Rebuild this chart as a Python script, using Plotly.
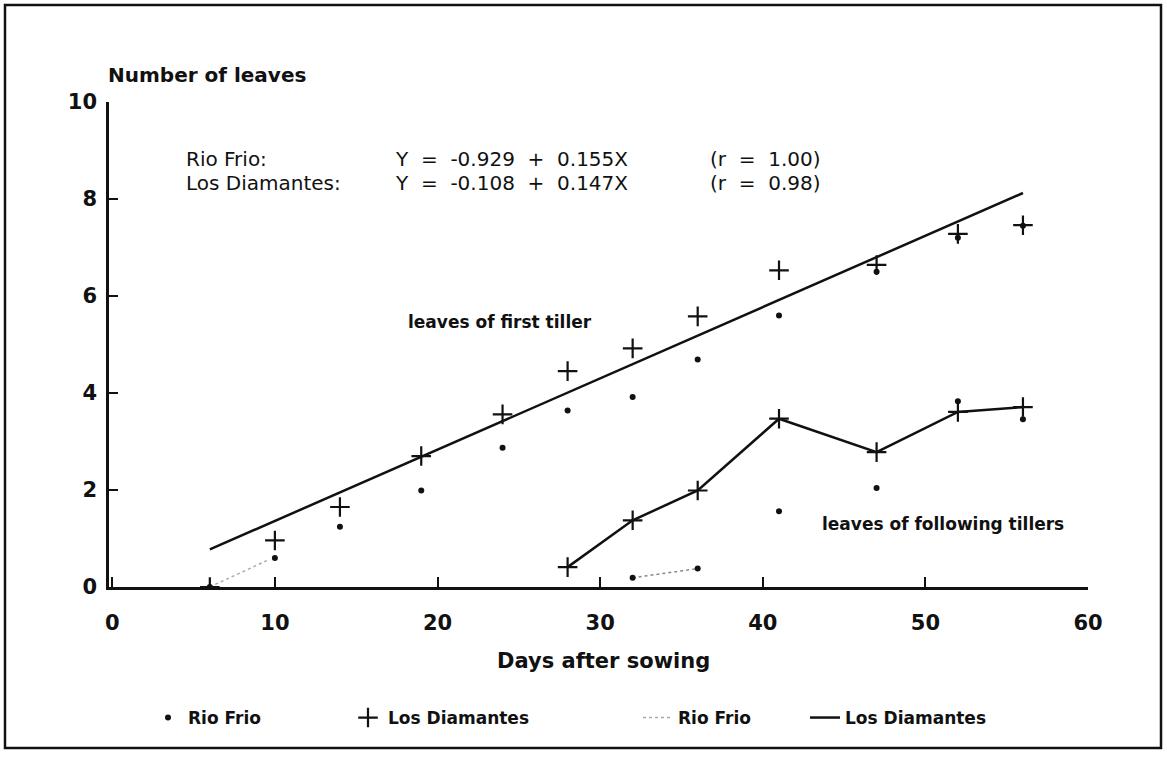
import plotly.graph_objects as go

# ---------------- data ----------------
days_first = [6, 10, 14, 19, 24, 28, 32, 36, 41, 47, 52, 56]
ld_first = [0.0, 0.96, 1.65, 2.70, 3.56, 4.45, 4.92, 5.58, 6.53, 6.64, 7.28, 7.46]
rf_first = [0.0, 0.60, 1.24, 1.99, 2.87, 3.64, 3.92, 4.69, 5.60, 6.50, 7.20, 7.45]

days_ld_follow = [28, 32, 36, 41, 47, 52, 56]
ld_follow = [0.41, 1.375, 1.99, 3.47, 2.78, 3.61, 3.71]

days_rf_follow = [32, 36, 41, 47, 52, 56]
rf_follow = [0.19, 0.38, 1.56, 2.04, 3.83, 3.46]

# regression equations printed on the chart
rf_a, rf_b = -0.929, 0.155
ld_a, ld_b = -0.108, 0.147
ld_fit_x = [6, 56]
rf_fit_x = [6, 9.5]          # only this part of the dotted line survives in the original

x_ticks = [0, 10, 20, 30, 40, 50, 60]
y_ticks = [0, 2, 4, 6, 8, 10]

# ---------------- layout geometry ----------------
W, H = 1167, 759
L, R, T, B = 109, 1088, 102, 587


def px_x(p):
    return (p - L) / (R - L)


def px_y(p):
    return (B - p) / (B - T)


FONT = "DejaVu Sans"
BLACK = "#111111"

fig = go.Figure()

# regression line Los Diamantes (solid)
fig.add_trace(go.Scatter(
    x=ld_fit_x, y=[ld_a + ld_b * v for v in ld_fit_x], mode="lines",
    line=dict(color=BLACK, width=2.5), name="Los Diamantes",
    legend="legend4", showlegend=True))

# regression line Rio Frio (dotted, faint)
fig.add_trace(go.Scatter(
    x=rf_fit_x, y=[rf_a + rf_b * v for v in rf_fit_x], mode="lines",
    line=dict(color="#aaaaaa", width=1.5, dash="dot"), name="Rio Frio",
    legend="legend3", showlegend=True))

# following tillers Rio Frio dotted connection (faint)
fig.add_trace(go.Scatter(
    x=days_rf_follow[:2], y=rf_follow[:2], mode="lines",
    line=dict(color="#888888", width=1.5, dash="dot"), showlegend=False))

# following tillers Los Diamantes connected line
fig.add_trace(go.Scatter(
    x=days_ld_follow, y=ld_follow, mode="lines",
    line=dict(color=BLACK, width=2.5), showlegend=False))

cross = dict(symbol="cross-thin", size=14, color=BLACK, line=dict(color=BLACK, width=2.2))
dot = dict(symbol="circle", size=6, color=BLACK)

fig.add_trace(go.Scatter(x=days_first, y=rf_first, mode="markers", marker=dot,
                         name="Rio Frio", legend="legend", showlegend=True))
fig.add_trace(go.Scatter(x=days_rf_follow, y=rf_follow, mode="markers", marker=dot,
                         showlegend=False))
fig.add_trace(go.Scatter(x=days_first, y=ld_first, mode="markers", marker=cross,
                         name="Los Diamantes", legend="legend2", showlegend=True))
fig.add_trace(go.Scatter(x=days_ld_follow, y=ld_follow, mode="markers", marker=cross,
                         showlegend=False))

tickfont = dict(family=FONT, size=21, color=BLACK, weight="bold")

fig.update_xaxes(range=[-0.2, 60], tickvals=x_ticks, ticktext=[str(v) for v in x_ticks],
                 showline=True, linecolor=BLACK, linewidth=2.5, ticks="inside",
                 ticklen=10, tickwidth=2, tickcolor=BLACK, showgrid=False, zeroline=False,
                 tickfont=tickfont, ticklabelstandoff=15)
fig.update_yaxes(range=[0, 10], tickvals=y_ticks, ticktext=[str(v) for v in y_ticks],
                 showline=True, linecolor=BLACK, linewidth=2.5, ticks="inside",
                 ticklen=9, tickwidth=2, tickcolor=BLACK, showgrid=False, zeroline=False,
                 tickfont=tickfont, ticklabelstandoff=5)


def ann(text, xp, yp, size, bold=False, anchor="left"):
    fig.add_annotation(text=text, xref="paper", yref="paper", x=px_x(xp), y=px_y(yp),
                       xanchor=anchor, yanchor="middle", showarrow=False,
                       font=dict(family=FONT, size=size, color=BLACK,
                                 weight="bold" if bold else "normal"))


NB = "\u00a0"
ann("Number of leaves", 106, 75, 20, bold=True)
ann("Rio Frio:", 184, 159, 20)
ann("Los Diamantes:", 184, 183, 20)
ann(f"Y{NB}{NB}={NB}{NB}-0.929{NB}{NB}+{NB}{NB}0.155X", 393, 159, 20)
ann(f"Y{NB}{NB}={NB}{NB}-0.108{NB}{NB}+{NB}{NB}0.147X", 393, 183, 20)
ann(f"(r{NB}{NB}={NB}{NB}1.00)", 708, 159, 20)
ann(f"(r{NB}{NB}={NB}{NB}0.98)", 708, 183, 20)
ann("leaves of first tiller", 406, 322, 17, bold=True)
ann("leaves of following tillers", 820, 524, 17, bold=True)
ann("Days after sowing", 603, 661, 21, bold=True, anchor="center")

# outer frame
fig.add_shape(type="rect", xref="paper", yref="paper",
              x0=px_x(5), x1=px_x(1161), y0=px_y(748), y1=px_y(5),
              line=dict(color=BLACK, width=2.5), fillcolor="rgba(0,0,0,0)", layer="below")

legfont = dict(family=FONT, size=17, color=BLACK, weight="bold")


def leg(center_px):
    return dict(x=px_x(center_px - 22), y=px_y(718), xanchor="left", yanchor="middle",
                orientation="h", bgcolor="rgba(0,0,0,0)", borderwidth=0, font=legfont)


fig.update_layout(
    width=W, height=H,
    margin=dict(l=L, r=W - R, t=T, b=H - B),
    paper_bgcolor="white", plot_bgcolor="white",
    legend=leg(170), legend2=leg(370), legend3=leg(660), legend4=leg(827),
)

fig.write_html("out.html")
